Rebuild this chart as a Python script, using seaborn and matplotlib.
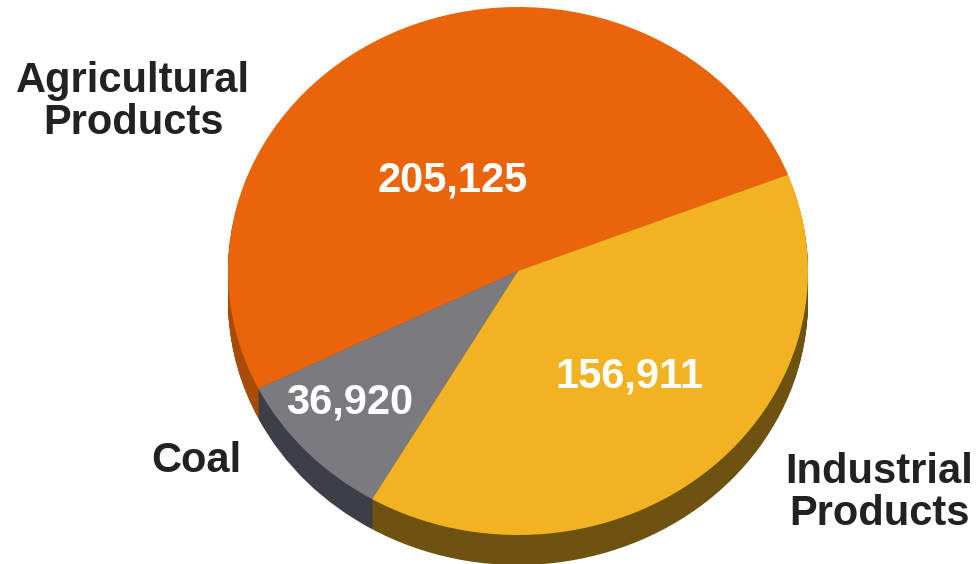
import matplotlib
matplotlib.use("Agg")
import matplotlib.pyplot as plt
import seaborn as sns

categories = ["Agricultural\nProducts", "Coal", "Industrial\nProducts"]
values = [205125, 36920, 156911]
value_labels = ["205,125", "36,920", "156,911"]
top_colors = ["#EA640B", "#7A7A7F", "#F2B322"]
side_colors = ["#A84A08", "#3E3E46", "#6E5210"]

W, H = 979, 564
CX, CY, RX, RY, DEPTH = 518, 271, 290, 264, 30

sns.set_theme(style="white")
plt.rcParams["font.family"] = ["Liberation Sans", "DejaVu Sans"]
plt.rcParams["font.weight"] = "bold"

fig = plt.figure(figsize=(W / 100, H / 100), dpi=100, facecolor="white")
ax = fig.add_axes([0, 0, 1, 1])

for k in range(DEPTH, 0, -1):
    ax.pie(values, colors=side_colors, startangle=21.4, center=(0, -k / RY),
           wedgeprops={"linewidth": 0})
ax.pie(values, colors=top_colors, startangle=21.4, wedgeprops={"linewidth": 0})

ax.set_aspect("auto")
ax.set_xlim(-CX / RX, (W - CX) / RX)
ax.set_ylim((CY - H) / RY, CY / RY)
ax.set_axis_off()


def place(px, py, text, color):
    fig.text(px / W, 1 - py / H, text, color=color, fontsize=30, fontweight="bold",
             ha="center", va="center", linespacing=1.05)


place(133, 102, categories[0], "#222222")
place(196, 461, categories[1], "#222222")
place(879, 493, categories[2], "#222222")
place(453, 181, value_labels[0], "white")
place(350, 403, value_labels[1], "white")
place(629, 376, value_labels[2], "white")

fig.savefig("out.png", dpi=100)
